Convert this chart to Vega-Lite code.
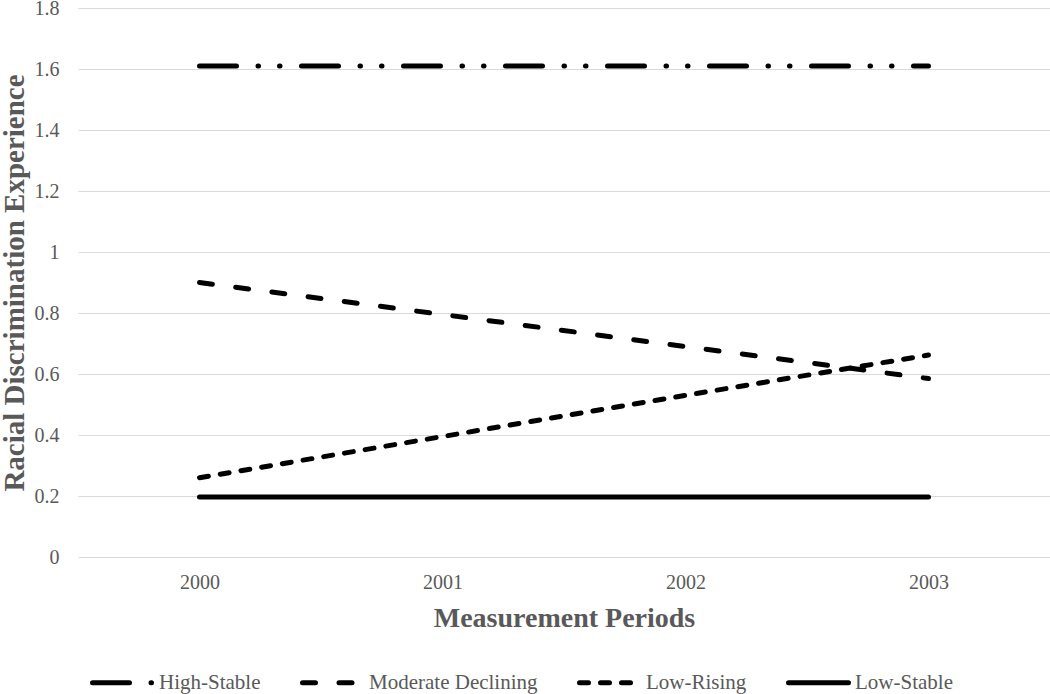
{
  "$schema": "https://vega.github.io/schema/vega-lite/v6.json",
  "width": 972,
  "height": 549,
  "autosize": "none",
  "padding": {"left": 78, "top": 8, "right": 0, "bottom": 137},
  "background": "white",
  "config": {"font": "Liberation Serif", "view": {"stroke": null}},
  "data": {
    "values": [
      {"period": "2000", "group": "High-Stable", "value": 1.61},
      {"period": "2001", "group": "High-Stable", "value": 1.61},
      {"period": "2002", "group": "High-Stable", "value": 1.61},
      {"period": "2003", "group": "High-Stable", "value": 1.61},
      {"period": "2000", "group": "Moderate Declining", "value": 0.9},
      {"period": "2001", "group": "Moderate Declining", "value": 0.795},
      {"period": "2002", "group": "Moderate Declining", "value": 0.69},
      {"period": "2003", "group": "Moderate Declining", "value": 0.585},
      {"period": "2000", "group": "Low-Rising", "value": 0.26},
      {"period": "2001", "group": "Low-Rising", "value": 0.395},
      {"period": "2002", "group": "Low-Rising", "value": 0.53},
      {"period": "2003", "group": "Low-Rising", "value": 0.662},
      {"period": "2000", "group": "Low-Stable", "value": 0.197},
      {"period": "2001", "group": "Low-Stable", "value": 0.197},
      {"period": "2002", "group": "Low-Stable", "value": 0.197},
      {"period": "2003", "group": "Low-Stable", "value": 0.197}
    ]
  },
  "mark": {"type": "line", "color": "black", "strokeWidth": 5, "strokeCap": "round"},
  "encoding": {
    "x": {
      "field": "period",
      "type": "ordinal",
      "scale": {"type": "point", "padding": 0.5},
      "axis": {
        "title": "Measurement Periods",
        "titleFontSize": 28,
        "titleFontWeight": "bold",
        "titleColor": "#595959",
        "titlePadding": 12,
        "labelAngle": 0,
        "labelFontSize": 20,
        "labelColor": "#595959",
        "labelPadding": 15,
        "domain": false,
        "ticks": false,
        "grid": false
      }
    },
    "y": {
      "field": "value",
      "type": "quantitative",
      "scale": {"domain": [0, 1.8], "nice": false},
      "axis": {
        "title": "Racial Discrimination Experience",
        "titleFontSize": 29,
        "titleFontWeight": "bold",
        "titleColor": "#595959",
        "titleX": -64,
        "titleY": 274.5,
        "titleBaseline": "middle",
        "values": [0, 0.2, 0.4, 0.6, 0.8, 1, 1.2, 1.4, 1.6, 1.8],
        "format": "~g",
        "labelFontSize": 20,
        "labelColor": "#595959",
        "labelPadding": 19,
        "domain": false,
        "ticks": false,
        "grid": true,
        "gridColor": "#d9d9d9",
        "gridWidth": 1
      }
    },
    "strokeDash": {
      "field": "group",
      "type": "nominal",
      "scale": {
        "domain": ["High-Stable", "Moderate Declining", "Low-Rising", "Low-Stable"],
        "range": [[37, 21.5, 0.5, 21, 0.5, 21.5], [13, 23.5], [9, 12], [1, 0]]
      },
      "legend": {
        "title": null,
        "orient": "none",
        "legendX": 12,
        "legendY": 642,
        "direction": "horizontal",
        "columns": 4,
        "columnPadding": 31,
        "symbolType": "stroke",
        "symbolSize": 3600,
        "symbolStrokeWidth": 5,
        "symbolStrokeColor": "black",
        "labelFontSize": 21,
        "labelLimit": 400,
        "labelColor": "#595959",
        "labelOffset": 4,
        "encoding": {
          "symbols": {"strokeCap": {"value": "round"}}
        }
      }
    }
  }
}
